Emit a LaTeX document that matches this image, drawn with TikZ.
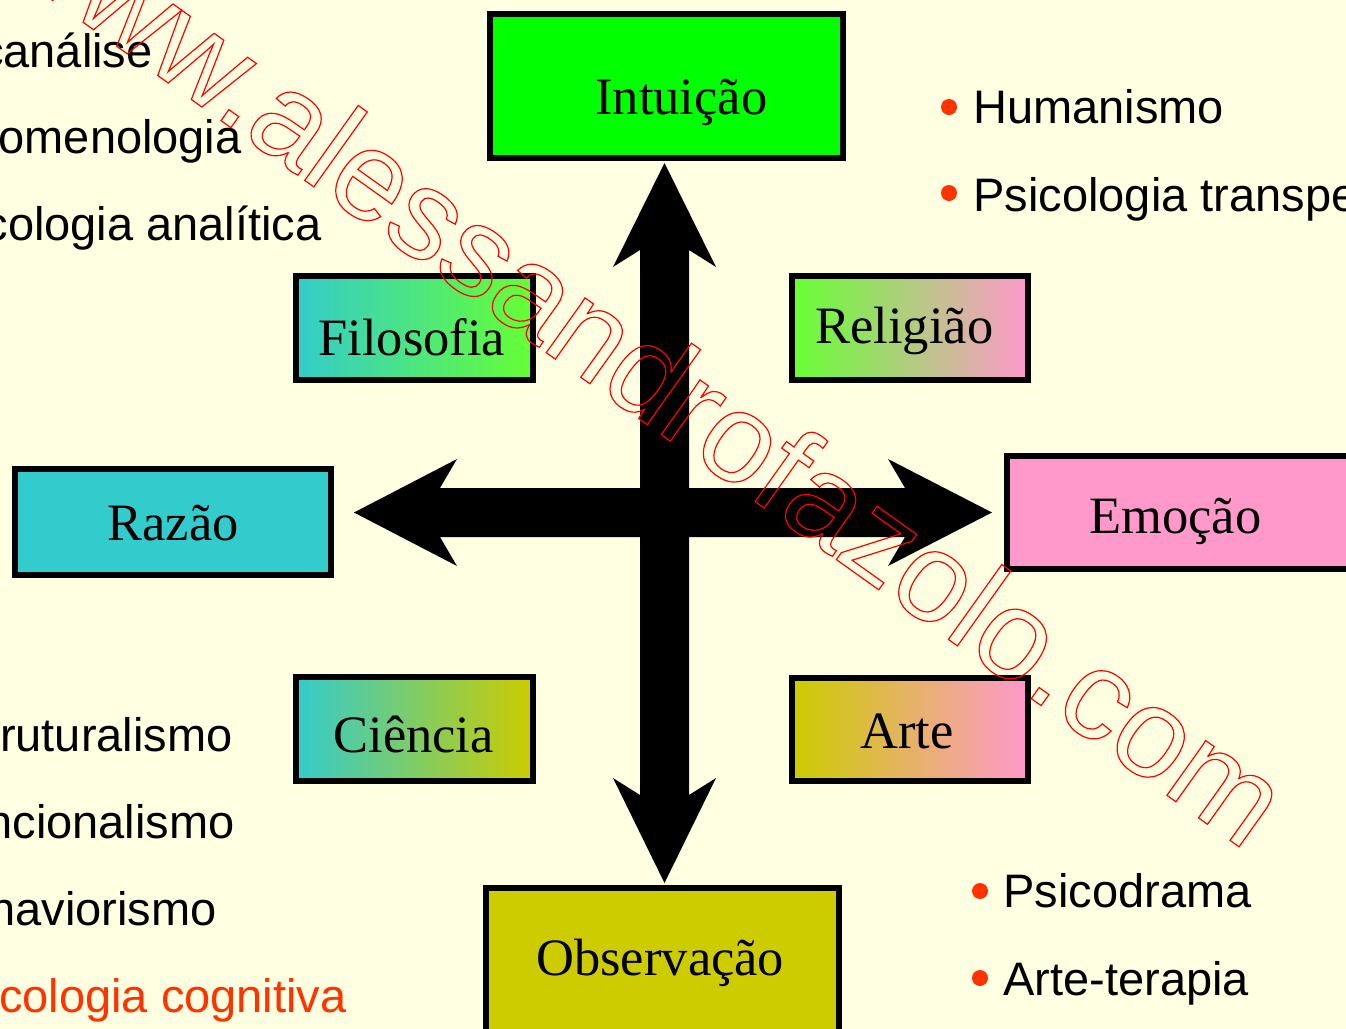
\documentclass[tikz,border=0pt]{standalone}
\usepackage{fontspec}
\setmainfont{Liberation Serif}
\newfontfamily\sansf{Liberation Sans}
\definecolor{bgc}{RGB}{255,255,225}
\definecolor{cyanT}{RGB}{51,204,204}
\definecolor{greenL}{RGB}{102,255,51}
\definecolor{pinkT}{RGB}{255,153,204}
\definecolor{oliveT}{RGB}{204,204,0}
\definecolor{greenB}{RGB}{0,255,0}
\definecolor{redor}{RGB}{255,51,0}
\begin{document}
\begin{tikzpicture}[x=0.5pt,y=-0.5pt,
  box/.style={draw=black, line width=3pt, rectangle, inner sep=0pt},
  lab/.style={anchor=base west, inner sep=0pt, font=\fontsize{26.25}{30}\selectfont},
  sidew/.style={anchor=base west, inner sep=0pt, font=\sansf\fontsize{23.5}{28}\selectfont},
  sidee/.style={anchor=base east, inner sep=0pt, font=\sansf\fontsize{23.5}{28}\selectfont},
  bul/.style={circle, fill=redor, inner sep=0pt, minimum size=8pt}]
\path[use as bounding box, fill=bgc] (0,0) rectangle (1346,1029);
\begin{scope}
\clip (0,0) rectangle (1346,1029);
% boxes
\node[box, fill=greenB, minimum width=176.5pt, minimum height=72pt] (intu) at (666.5,86) {};
\node[box, left color=cyanT, right color=greenL, minimum width=118.5pt, minimum height=52pt] (filo) at (414.5,328) {};
\node[box, left color=greenL, right color=pinkT, minimum width=118pt, minimum height=52pt] (reli) at (910,328) {};
\node[box, fill=cyanT, minimum width=158pt, minimum height=53pt] (raza) at (173,522) {};
\node[box, fill=pinkT, minimum width=176.5pt, minimum height=56.5pt] (emoc) at (1183.5,512.5) {};
\node[box, left color=cyanT, right color=oliveT, minimum width=118.5pt, minimum height=52pt] (cien) at (414.5,729) {};
\node[box, left color=oliveT, right color=pinkT, minimum width=118pt, minimum height=51.5pt] (arte) at (910,729.5) {};
\node[box, fill=oliveT, minimum width=176.5pt, minimum height=78.5pt] (obse) at (662.5,966.5) {};
% box labels
\node[lab] (intuT) at (595,114) {Intuição};
\node[lab] (filoT) at (318,355) {Filosofia};
\node[lab] (reliT) at (815,343) {Religião};
\node[lab] (razaT) at (107,540) {Razão};
\node[lab] (emocT) at (1089,533) {Emoção};
\node[lab] (cienT) at (333,752) {Ciência};
\node[lab] (arteT) at (860,748) {Arte};
\node[lab] (obseT) at (536,975) {Observação};
% arrows
\fill[black] (664.5,163) -- (716,267) -- (689,250) -- (689,795) -- (716,778) -- (664.5,883)
  -- (613,778) -- (640,795) -- (640,250) -- (613,267) -- cycle;
\fill[black] (354,512.5) -- (457,459) -- (440,488) -- (905,488) -- (888,459) -- (992,512.5)
  -- (888,566) -- (905,537) -- (440,537) -- (457,566) -- cycle;
% left lists
\node[sidee] (t1) at (153,67) {canálise};
\node[sidee] (t2) at (242,153) {omenologia};
\node[sidee] (t3) at (322,240) {cologia analítica};
\node[sidee] (t4) at (233,751) {ruturalismo};
\node[sidee] (t5) at (235,838) {ncionalismo};
\node[sidee] (t6) at (217,925) {haviorismo};
\node[sidee, text=redor] (t7) at (347,1012) {cologia cognitiva};
% right lists
\node[bul] (b1) at (949,107) {};
\node[sidew] (r1) at (973,123) {Humanismo};
\node[bul] (b2) at (949,193) {};
\node[sidew] (r2) at (973,211) {Psicologia transpe};
\node[bul] (b3) at (980,891) {};
\node[sidew] (r3) at (1003,907) {Psicodrama};
\node[bul] (b4) at (980,978) {};
\node[sidew] (r4) at (1003,995) {Arte-terapia};
% watermark
\node[anchor=base west, inner sep=0pt, rotate=-35.5, text=red,
  font=\sansf\fontsize{63.5}{70}\selectfont] (wm) at (-7,-42)
  {\special{pdf:literal direct 1 Tr 0.6 w}www.alessandrofazolo.com\special{pdf:literal direct 0 Tr}};
\end{scope}
\end{tikzpicture}
\end{document}
